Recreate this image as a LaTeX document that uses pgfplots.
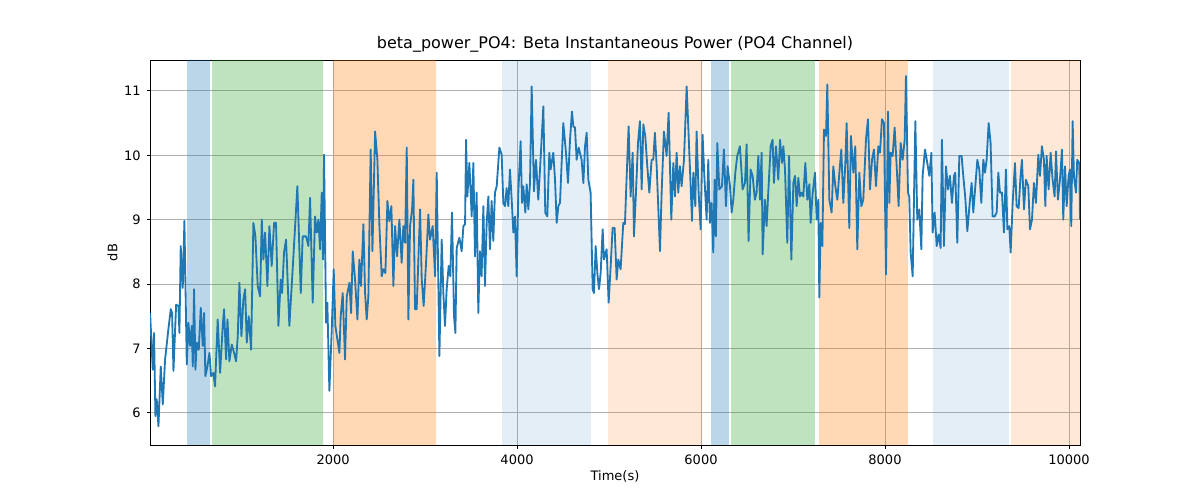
\documentclass[border=0pt]{standalone}
\usepackage{pgfplots}
\pgfplotsset{compat=1.18}
\usepackage{fontspec}
\setmainfont{DejaVu Sans}
\definecolor{tb}{HTML}{1F77B4}
\definecolor{tg}{HTML}{2CA02C}
\definecolor{to}{HTML}{FF7F0E}
\begin{document}
\begin{tikzpicture}
\begin{axis}[scale only axis, width=558pt, height=231pt,
 xmin=10, xmax=10120, ymin=5.5, ymax=11.48,
 xtick={2000,4000,6000,8000,10000}, ytick={6,7,8,9,10,11},
 xtick pos=left, ytick pos=left,
 grid=major, major grid style={color={rgb,255:red,176;green,176;blue,176}, line width=0.5pt},
 tick style={black, line width=0.5pt}, tick align=outside, major tick length=2.1pt,
 /pgf/number format/assume math mode=true,
 scaled x ticks=false, xticklabel style={/pgf/number format/1000 sep={}},
 ticklabel style={font=\fontsize{7.8}{9}\selectfont},
 xlabel={Time(s)}, ylabel={dB},
 label style={font=\fontsize{7.8}{9}\selectfont},
 title={beta\_power\_PO4: Beta Instantaneous Power (PO4 Channel)},
 title style={font=\fontsize{9.6}{11}\selectfont, yshift=-5pt},
 xlabel style={yshift=3pt}, ylabel style={yshift=-3pt}]
\addplot[fill=tb, fill opacity=0.3, draw=none] coordinates {(413,5.5)(413,11.48)(663,11.48)(663,5.5)} \closedcycle;
\addplot[fill=tg, fill opacity=0.3, draw=none] coordinates {(685,5.5)(685,11.48)(1891,11.48)(1891,5.5)} \closedcycle;
\addplot[fill=to, fill opacity=0.3, draw=none] coordinates {(2000,5.5)(2000,11.48)(3120,11.48)(3120,5.5)} \closedcycle;
\addplot[fill=tb, fill opacity=0.12, draw=none] coordinates {(3837,5.5)(3837,11.48)(4804,11.48)(4804,5.5)} \closedcycle;
\addplot[fill=to, fill opacity=0.17, draw=none] coordinates {(4989,5.5)(4989,11.48)(6011,11.48)(6011,5.5)} \closedcycle;
\addplot[fill=tb, fill opacity=0.3, draw=none] coordinates {(6109,5.5)(6109,11.48)(6304,11.48)(6304,5.5)} \closedcycle;
\addplot[fill=tg, fill opacity=0.3, draw=none] coordinates {(6326,5.5)(6326,11.48)(7239,11.48)(7239,5.5)} \closedcycle;
\addplot[fill=to, fill opacity=0.3, draw=none] coordinates {(7283,5.5)(7283,11.48)(8250,11.48)(8250,5.5)} \closedcycle;
\addplot[fill=tb, fill opacity=0.12, draw=none] coordinates {(8522,5.5)(8522,11.48)(9348,11.48)(9348,5.5)} \closedcycle;
\addplot[fill=to, fill opacity=0.17, draw=none] coordinates {(9370,5.5)(9370,11.48)(10120,11.48)(10120,5.5)} \closedcycle;
\addplot[color=tb, line width=1.1pt, mark=none, line join=round] table {
x y
11 7.55
40 6.67
54 7.24
69 5.95
83 6.21
102 5.79
127 6.72
149 6.13
174 6.83
210 7.30
236 7.61
250 7.55
265 6.65
294 7.68
319 7.66
330 7.24
344 8.59
366 7.94
384 8.98
410 6.75
428 7.40
446 7.04
464 7.35
475 6.72
489 7.92
504 6.67
518 7.09
540 6.98
562 7.63
583 7.04
598 7.55
612 6.57
634 6.72
656 6.93
674 6.57
699 6.62
717 6.41
746 7.45
772 6.62
801 7.35
815 7.61
837 6.83
852 7.45
873 6.80
899 7.06
924 6.93
946 6.80
964 7.19
982 8.02
1004 7.19
1025 7.76
1044 7.92
1062 7.09
1083 7.50
1109 6.98
1134 8.95
1156 8.74
1181 7.97
1207 7.81
1225 9.00
1243 8.38
1261 8.80
1286 7.97
1308 8.90
1333 8.28
1359 8.95
1380 8.95
1406 7.35
1431 8.07
1446 7.86
1467 8.49
1489 8.69
1525 7.35
1569 8.43
1612 9.52
1649 7.86
1670 8.74
1707 8.74
1732 8.59
1750 9.34
1779 7.71
1804 9.05
1823 8.80
1841 9.00
1859 8.54
1877 9.42
1891 8.38
1902 10.01
1924 7.40
1938 7.71
1960 6.34
1986 7.30
2007 8.23
2025 7.35
2047 7.14
2069 6.93
2083 7.50
2105 7.86
2130 6.83
2149 7.81
2178 8.02
2196 7.55
2214 8.51
2239 8.07
2265 7.45
2286 8.38
2304 7.97
2330 8.93
2348 7.86
2366 7.45
2384 7.81
2409 10.09
2428 8.51
2457 10.37
2482 9.93
2504 8.90
2529 8.12
2547 8.23
2569 8.17
2591 9.29
2612 8.98
2634 9.21
2656 7.97
2674 8.90
2696 8.43
2721 9.00
2746 8.33
2764 8.90
2783 8.64
2801 10.12
2819 7.45
2837 8.90
2859 9.16
2873 9.62
2891 7.61
2909 7.61
2946 9.16
2964 8.07
2985 7.66
3011 8.33
3036 9.08
3054 8.69
3083 8.90
3109 8.12
3127 9.73
3156 6.88
3181 8.69
3199 7.86
3217 7.35
3235 7.92
3257 8.28
3275 8.12
3293 9.11
3315 7.50
3330 7.24
3344 8.56
3373 8.72
3398 8.51
3417 8.90
3435 8.93
3446 10.24
3460 9.36
3482 9.88
3507 9.05
3525 9.88
3543 8.43
3561 9.42
3579 7.55
3597 8.51
3615 8.12
3634 9.21
3652 7.97
3670 8.95
3688 9.36
3706 8.54
3724 9.29
3742 8.67
3760 9.42
3779 9.52
3808 10.12
3833 10.01
3851 9.26
3869 9.21
3887 9.49
3905 9.21
3923 9.78
3942 9.31
3960 8.80
3978 9.05
3996 8.12
4014 9.42
4039 10.22
4054 9.26
4068 9.52
4090 9.11
4105 9.55
4123 9.16
4141 9.57
4159 11.07
4184 9.44
4206 9.93
4231 9.31
4250 9.78
4286 10.76
4307 9.11
4329 9.05
4351 10.04
4365 9.78
4394 10.04
4413 9.62
4431 8.95
4449 9.21
4467 9.26
4503 10.50
4532 10.04
4554 9.57
4576 10.24
4597 10.68
4612 10.45
4630 10.43
4648 9.93
4670 10.12
4702 9.93
4721 9.57
4739 10.14
4757 10.35
4775 9.62
4800 9.42
4822 7.92
4836 7.86
4855 8.59
4873 8.17
4891 7.92
4909 8.17
4931 8.85
4945 8.38
4974 8.54
4996 7.71
5018 8.28
5039 8.87
5061 8.87
5083 8.07
5101 8.38
5126 8.23
5155 8.95
5173 8.93
5192 9.68
5213 10.45
5235 9.36
5257 10.04
5271 8.74
5293 9.42
5315 10.19
5336 10.53
5355 9.47
5373 10.48
5394 10.30
5416 9.83
5438 9.42
5463 9.93
5481 9.93
5499 10.35
5518 9.83
5554 8.51
5572 9.42
5597 10.37
5626 9.99
5648 10.66
5677 9.00
5699 9.88
5717 9.36
5735 10.04
5753 9.42
5771 9.83
5789 9.52
5815 9.93
5844 11.07
5873 10.04
5902 8.98
5916 9.73
5938 9.21
5952 10.37
5974 9.42
5996 8.85
6017 10.32
6036 9.68
6061 9.00
6079 9.93
6097 8.95
6115 9.26
6133 8.49
6148 9.62
6162 8.74
6177 10.19
6199 9.47
6228 9.52
6249 10.09
6271 9.21
6289 9.83
6315 9.52
6333 9.11
6351 9.31
6373 9.73
6394 9.99
6423 10.14
6452 9.47
6478 9.57
6496 10.17
6517 8.67
6539 9.78
6561 9.68
6586 9.31
6604 9.42
6623 9.99
6641 9.31
6659 10.04
6670 8.46
6695 9.31
6713 8.90
6731 9.42
6757 10.14
6778 10.24
6793 9.57
6815 10.14
6840 9.62
6859 10.24
6880 9.88
6895 10.14
6913 9.78
6938 8.64
6957 9.99
6982 8.38
7004 9.57
7022 9.68
7040 9.21
7058 9.65
7076 9.36
7094 9.42
7112 9.36
7134 9.88
7156 9.31
7178 9.55
7192 8.95
7214 9.42
7239 9.73
7257 9.00
7275 9.31
7286 7.79
7301 8.95
7319 8.59
7337 10.40
7359 10.30
7373 11.10
7395 9.31
7420 9.11
7438 9.83
7460 9.52
7482 9.31
7504 9.73
7525 10.09
7547 9.26
7569 9.88
7583 10.50
7612 8.87
7630 10.30
7656 9.73
7677 10.14
7699 8.54
7721 9.73
7743 9.21
7764 9.31
7793 10.24
7815 10.56
7837 9.47
7859 9.93
7880 10.09
7902 9.52
7928 10.14
7946 10.04
7967 10.56
7989 10.50
8011 8.15
8033 10.68
8047 9.26
8062 10.04
8083 9.99
8105 10.43
8127 9.83
8148 9.21
8170 10.19
8192 9.93
8214 10.24
8228 11.23
8250 9.42
8264 9.36
8279 8.49
8301 8.12
8315 9.31
8330 10.53
8351 9.00
8373 9.16
8395 8.54
8409 9.68
8435 10.09
8460 9.88
8482 9.68
8504 10.04
8518 8.80
8540 9.11
8562 8.59
8583 8.77
8605 8.56
8619 10.24
8641 8.59
8663 9.83
8685 9.47
8706 9.68
8728 9.26
8750 9.68
8764 9.73
8786 8.64
8808 9.99
8833 9.99
8851 9.68
8873 9.34
8895 8.82
8924 9.31
8942 9.57
8960 9.11
8982 9.52
9004 9.93
9025 9.78
9047 9.26
9069 9.93
9087 9.73
9105 9.93
9127 10.50
9148 10.19
9170 9.05
9192 9.05
9214 9.11
9232 9.73
9250 9.42
9272 9.42
9293 8.80
9315 9.78
9330 8.85
9351 8.90
9366 8.49
9388 9.26
9413 9.88
9431 9.21
9453 9.18
9474 9.68
9489 9.93
9511 9.16
9532 9.62
9558 9.52
9576 8.85
9598 9.00
9619 9.57
9641 9.26
9667 10.01
9685 9.68
9706 10.14
9728 9.93
9743 9.21
9757 9.99
9779 9.47
9801 10.04
9822 9.62
9844 9.36
9859 10.06
9880 9.31
9902 9.62
9924 10.09
9938 9.00
9957 9.83
9975 9.21
9996 9.68
10011 9.78
10025 8.90
10040 10.53
10054 9.68
10076 9.42
10090 9.93
10112 9.88
10120 9.00
};
\end{axis}
\path ([xshift=-90pt,yshift=-33pt]current axis.south west) rectangle ([xshift=72pt,yshift=36pt]current axis.north east);
\end{tikzpicture}
\end{document}
